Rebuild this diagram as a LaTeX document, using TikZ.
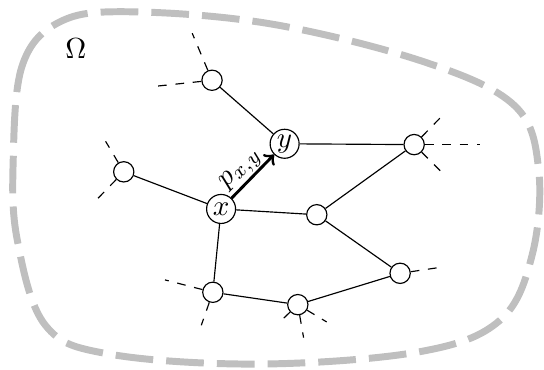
\documentclass[tikz,border=0pt]{standalone}
\usepackage{amsmath,amsfonts,amssymb}
\usepackage{tikz}
\usetikzlibrary{arrows}

\begin{document}
\begin{tikzpicture}[vtx/.style={draw,circle,fill=white,minimum size=7pt,inner sep=0pt},
        lvtx/.style={draw,circle,fill=white,minimum size=10pt,inner sep=0.5pt},
        stub/.style={dashed},
        region/.style={line width=2.4pt,black!25,dash pattern=on 13pt off 4.5pt}]
        \useasboundingbox (0,0) rectangle (6.594,4.473);
        % the region
        \draw[region] plot[smooth cycle,tension=0.6] coordinates {(0.16,2.53) (0.27,3.68) (0.73,4.21) (1.58,4.33) (3.30,4.18) (5.15,3.72) (6.24,3.19) (6.53,2.41) (6.45,1.38) (6.06,0.59) (5.09,0.21) (3.15,0.06) (1.33,0.18) (0.55,0.53) (0.21,1.56)};
        \node (omega) at (0.92,3.88) {$\Omega$};
        % vertices
        \node[vtx] (t) at (2.57,3.50) {};
        \node[lvtx] (y) at (3.45,2.73) {$y$};
        \node[vtx] (r) at (5.02,2.72) {};
        \node[vtx] (l) at (1.50,2.39) {};
        \node[lvtx] (x) at (2.68,1.94) {$x$};
        \node[vtx] (m) at (3.84,1.87) {};
        \node[vtx] (rb) at (4.85,1.16) {};
        \node[vtx] (bl) at (2.58,0.93) {};
        \node[vtx] (b) at (3.61,0.78) {};
        % edges
        \draw (t) -- (y);
        \draw (y) -- (r);
        \draw (l) -- (x);
        \draw (x) -- (m);
        \draw (m) -- (r);
        \draw (m) -- (rb);
        \draw (x) -- (bl);
        \draw (bl) -- (b);
        \draw (b) -- (rb);
        \draw[->,line width=1pt] (x) -- node[sloped,above,pos=0.45,inner sep=0.5pt] {$p_{x,y}$} (y);
        % loose ends
        \coordinate (t1) at (2.33,4.07);
        \coordinate (t2) at (1.82,3.42);
        \coordinate (l1) at (1.28,2.76);
        \coordinate (l2) at (1.13,2.01);
        \coordinate (r1) at (5.39,3.10);
        \coordinate (r2) at (5.82,2.72);
        \coordinate (r3) at (5.41,2.33);
        \coordinate (rb1) at (5.39,1.24);
        \coordinate (bl1) at (2.00,1.08);
        \coordinate (bl2) at (2.44,0.53);
        \coordinate (b1) at (3.37,0.55);
        \coordinate (b2) at (3.68,0.38);
        \coordinate (b3) at (3.96,0.57);
        \draw[stub] (t) -- (t1);
        \draw[stub] (t) -- (t2);
        \draw[stub] (l) -- (l1);
        \draw[stub] (l) -- (l2);
        \draw[stub] (r) -- (r1);
        \draw[stub] (r) -- (r2);
        \draw[stub] (r) -- (r3);
        \draw[stub] (rb) -- (rb1);
        \draw[stub] (bl) -- (bl1);
        \draw[stub] (bl) -- (bl2);
        \draw[stub] (b) -- (b1);
        \draw[stub] (b) -- (b2);
        \draw[stub] (b) -- (b3);
\end{tikzpicture}
\end{document}
